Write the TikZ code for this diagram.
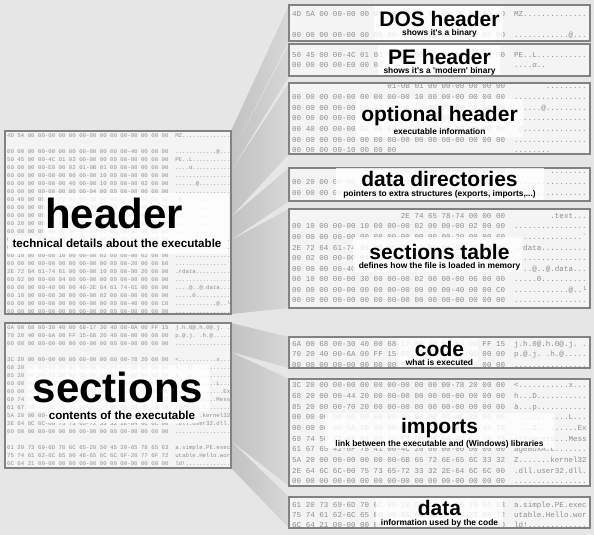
\documentclass[tikz,border=0pt]{standalone}
\usepackage{fontspec}
\setmainfont{Liberation Sans}
\setmonofont{Liberation Mono}
\definecolor{bg}{HTML}{E6E6E6}
\definecolor{fanL}{HTML}{C2C2C2}
\definecolor{fanR}{HTML}{D7D7D7}
\definecolor{panelfill}{HTML}{F4F4F4}
\definecolor{panelline}{HTML}{828282}
\definecolor{hexcol}{HTML}{8E8E8E}
\tikzset{
  panel/.style={draw=panelline, line width=1.3pt, fill=panelfill},
  hexR/.style={inner sep=0pt, anchor=base west, text=hexcol, font=\fontsize{7.55}{8}\selectfont\ttfamily},
  hexL/.style={inner sep=0pt, anchor=base west, text=hexcol, font=\fontsize{5.72}{6}\selectfont\ttfamily},
  hexcur/.style={hexR},
  wbox/.style={fill=white, fill opacity=0.8, draw=none},
  ttl/.style={inner sep=0pt, anchor=base, font=\fontsize{21}{21}\selectfont\bfseries},
  stl/.style={inner sep=0pt, anchor=base, font=\fontsize{8.4}{9}\selectfont\bfseries},
  bigttl/.style={inner sep=0pt, anchor=base, font=\fontsize{42}{42}\selectfont\bfseries},
  bigstl/.style={inner sep=0pt, anchor=base, font=\fontsize{11.6}{12}\selectfont\bfseries},
  fan/.style={left color=fanL, right color=fanR, draw=none}
}
% block settings: \blk{style}{x0}{baseline y0}{char width}{row step}
\newcommand\blk[5]{\tikzset{hexcur/.style={#1}}\def\HX{#2}\def\HY{#3}\def\CW{#4}\def\DY{#5}}
% row: \hr{name}{row}{col}{hex}{ascii col}{ascii}
\newcommand\hr[6]{%
  \node[hexcur] (#1h) at ({\HX+3*#3*\CW},{\HY+#2*\DY}) {#4};%
  \node[hexcur] (#1a) at ({\HX+(49+#5)*\CW},{\HY+#2*\DY}) {#6};}
\begin{document}
\begin{tikzpicture}[x=1pt,y=-1pt]
\useasboundingbox (0,0) rectangle (594,535);
\fill[bg] (0,0) rectangle (594,535);

% fans (header)
\shade[fan] (231,131) -- (289,5) -- (289,41) -- (231,155) -- cycle;
\shade[fan] (231,155) -- (289,44) -- (289,76) -- (231,171) -- cycle;
\shade[fan] (231,171) -- (289,83) -- (289,154) -- (231,217) -- cycle;
\shade[fan] (231,217) -- (289,168) -- (289,201) -- (231,240) -- cycle;
\shade[fan] (231,240) -- (289,209) -- (289,308) -- (231,314) -- cycle;
% fans (sections)
\shade[fan] (231,323) -- (289,337) -- (289,368) -- (231,352) -- cycle;
\shade[fan] (231,352) -- (289,379) -- (289,486) -- (231,441) -- cycle;
\shade[fan] (231,441) -- (289,497) -- (289,528) -- (231,468) -- cycle;

% panels
\draw[panel] (5,131) rectangle (231,314);
\draw[panel] (5,323) rectangle (231,468);
\draw[panel] (289,5) rectangle (590,41);
\draw[panel] (289,44) rectangle (590,76);
\draw[panel] (289,83) rectangle (590,154);
\draw[panel] (289,168) rectangle (590,201);
\draw[panel] (289,209) rectangle (590,308);
\draw[panel] (289,337) rectangle (590,368);
\draw[panel] (289,379) rectangle (590,486);
\draw[panel] (289,497) rectangle (590,528);

% left header dump
\begin{scope}
\clip (5.7,131.7) rectangle (230.3,313.3);
\blk{hexL}{7}{137}{3.43}{8.03}
\hr{lh0}{0}{0}{4D 5A 00 00-00 00 00 00-00 00 00 00-00 00 00 00}{0}{MZ..............}
\hr{lh2}{2}{0}{00 00 00 00-00 00 00 00-00 00 00 00-40 00 00 00}{0}{............@...}
\hr{lh3}{3}{0}{50 45 00 00-4C 01 03 00-00 00 00 00-00 00 00 00}{0}{PE..L...........}
\hr{lh4}{4}{0}{00 00 00 00-E0 00 02 01-0B 01 00 00-00 00 00 00}{0}{....α...........}
\hr{lh5}{5}{0}{00 00 00 00-00 00 00 00-00 10 00 00-00 00 00 00}{0}{................}
\hr{lh6}{6}{0}{00 00 00 00-00 00 40 00-00 10 00 00-00 02 00 00}{0}{......@.........}
\hr{lh7}{7}{0}{00 00 00 00-00 00 00 00-04 00 00 00-00 00 00 00}{0}{................}
\hr{lh8}{8}{0}{00 40 00 00-00 02 00 00-00 00 00 00-02 00 00 00}{0}{.@..............}
\hr{lh9}{9}{0}{00 00 00 00-00 00 00 00-00 00 00 00-00 00 00 00}{0}{................}
\hr{lh10}{10}{0}{00 00 00 00-10 00 00 00-00 00 00 00-00 00 00 00}{0}{................}
\hr{lh11}{11}{0}{00 20 00 00-00 00 00 00-00 00 00 00-00 00 00 00}{0}{................}
\hr{lh12}{12}{0}{00 00 00 00-00 00 00 00-00 00 00 00-00 00 00 00}{0}{................}
\hr{lh13}{13}{0}{00 00 00 00-00 00 00 00-00 00 00 00-00 00 00 00}{0}{................}
\hr{lh14}{14}{0}{00 00 00 00-00 00 00 00-2E 74 65 78-74 00 00 00}{0}{.........text...}
\hr{lh15}{15}{0}{00 10 00 00-00 10 00 00-00 02 00 00-00 02 00 00}{0}{................}
\hr{lh16}{16}{0}{00 00 00 00-00 00 00 00-00 00 00 00-20 00 00 60}{0}{...............`}
\hr{lh17}{17}{0}{2E 72 64 61-74 61 00 00-00 10 00 00-00 20 00 00}{0}{.rdata..........}
\hr{lh18}{18}{0}{00 02 00 00-00 04 00 00-00 00 00 00-00 00 00 00}{0}{................}
\hr{lh19}{19}{0}{00 00 00 00-40 00 00 40-2E 64 61 74-61 00 00 00}{0}{....@..@.data...}
\hr{lh20}{20}{0}{00 10 00 00-00 30 00 00-00 02 00 00-00 06 00 00}{0}{.....0..........}
\hr{lh21}{21}{0}{00 00 00 00-00 00 00 00-00 00 00 00-40 00 00 C0}{0}{............@..└}
\hr{lh22}{22}{0}{00 00 00 00-00 00 00 00-00 00 00 00-00 00 00 00}{0}{................}
\end{scope}

% left sections dump
\begin{scope}
\clip (5.7,323.7) rectangle (230.3,467.3);
\blk{hexL}{7}{329.7}{3.43}{7.98}
\hr{ls0}{0}{0}{6A 00 68 00-30 40 00 68-17 30 40 00-6A 00 FF 15}{0}{j.h.0@.h.0@.j. .}
\hr{ls1}{1}{0}{70 20 40 00-6A 00 FF 15-68 20 40 00-00 00 00 00}{0}{p.@.j. .h.@.....}
\hr{ls2}{2}{0}{00 00 00 00-00 00 00 00-00 00 00 00-00 00 00 00}{0}{................}
\hr{ls4}{4}{0}{3C 20 00 00-00 00 00 00-00 00 00 00-78 20 00 00}{0}{<...........x...}
\hr{ls5}{5}{0}{68 20 00 00-44 20 00 00-00 00 00 00-00 00 00 00}{0}{h...D...........}
\hr{ls6}{6}{0}{85 20 00 00-70 20 00 00-00 00 00 00-00 00 00 00}{0}{à...p...........}
\hr{ls7}{7}{0}{00 00 00 00-00 00 00 00-00 00 00 00-4C 20 00 00}{0}{............L...}
\hr{ls8}{8}{0}{00 00 00 00-5A 20 00 00-00 00 00 00-00 00 45 78}{0}{....Z.........Ex}
\hr{ls9}{9}{0}{69 74 50 72-6F 63 65 73-73 00 00 00-4D 65 73 73}{0}{itProcess...Mess}
\hr{ls10}{10}{0}{61 67 65 42-6F 78 41 00-4C 20 00 00-00 00 00 00}{0}{ageBoxA.L.......}
\hr{ls11}{11}{0}{5A 20 00 00-00 00 00 00-6B 65 72 6E-65 6C 33 32}{0}{Z.......kernel32}
\hr{ls12}{12}{0}{2E 64 6C 6C-00 75 73 65-72 33 32 2E-64 6C 6C 00}{0}{.dll.user32.dll.}
\hr{ls13}{13}{0}{00 00 00 00-00 00 00 00-00 00 00 00-00 00 00 00}{0}{................}
\hr{ls15}{15}{0}{61 20 73 69-6D 70 6C 65-20 50 45 20-65 78 65 63}{0}{a.simple.PE.exec}
\hr{ls16}{16}{0}{75 74 61 62-6C 65 00 48-65 6C 6C 6F-20 77 6F 72}{0}{utable.Hello.wor}
\hr{ls17}{17}{0}{6C 64 21 00-00 00 00 00-00 00 00 00-00 00 00 00}{0}{ld!.............}
\end{scope}

% right dumps
\blk{hexR}{292}{16.2}{4.53}{10.5}
\hr{dos0}{0}{0}{4D 5A 00 00-00 00 00 00-00 00 00 00-00 00 00 00}{0}{MZ..............}
\hr{dos2}{2}{0}{00 00 00 00-00 00 00 00-00 00 00 00-40 00 00 00}{0}{............@...}
\blk{hexR}{292}{57.2}{4.53}{10.6}
\hr{pe0}{0}{0}{50 45 00 00-4C 01 03 00-00 00 00 00-00 00 00 00}{0}{PE..L...........}
\hr{pe1}{1}{0}{00 00 00 00-E0 00 02}{0}{....α..}
\blk{hexR}{292}{88.7}{4.53}{10.67}
\hr{op0}{0}{7}{01-0B 01 00 00-00 00 00 00}{7}{.........}
\hr{op1}{1}{0}{00 00 00 00-00 00 00 00-00 10 00 00-00 00 00 00}{0}{................}
\hr{op2}{2}{0}{00 00 00 00-00 00 40 00-00 10 00 00-00 02 00 00}{0}{......@.........}
\hr{op3}{3}{0}{00 00 00 00-00 00 00 00-04 00 00 00-00 00 00 00}{0}{................}
\hr{op4}{4}{0}{00 40 00 00-00 02 00 00-00 00 00 00-02 00 00 00}{0}{.@..............}
\hr{op5}{5}{0}{00 00 00 00-00 00 00 00-00 00 00 00-00 00 00 00}{0}{................}
\hr{op6}{6}{0}{00 00 00 00-10 00 00 00}{0}{........}
\blk{hexR}{292}{173.7}{4.53}{11.1}
\hr{dd0}{0}{8}{00 00 00 00-00 00 00 00}{8}{........}
\hr{dd1}{1}{0}{00 20 00 00-00 00 00 00-00 00 00 00-00 00 00 00}{0}{................}
\hr{dd2}{2}{0}{00 00 00 00-00 00 00 00-00 00 00 00-00 00 00 00}{0}{................}
\blk{hexR}{292}{218.4}{4.53}{10.55}
\hr{st0}{0}{8}{2E 74 65 78-74 00 00 00}{8}{.text...}
\hr{st1}{1}{0}{00 10 00 00-00 10 00 00-00 02 00 00-00 02 00 00}{0}{................}
\hr{st2}{2}{0}{00 00 00 00-00 00 00 00-00 00 00 00-20 00 00 60}{0}{...............`}
\hr{st3}{3}{0}{2E 72 64 61-74 61 00 00-00 10 00 00-00 20 00 00}{0}{.rdata..........}
\hr{st4}{4}{0}{00 02 00 00-00 04 00 00-00 00 00 00-00 00 00 00}{0}{................}
\hr{st5}{5}{0}{00 00 00 00-40 00 00 40-2E 64 61 74-61 00 00 00}{0}{....@..@.data...}
\hr{st6}{6}{0}{00 10 00 00-00 30 00 00-00 02 00 00-00 06 00 00}{0}{.....0..........}
\hr{st7}{7}{0}{00 00 00 00-00 00 00 00-00 00 00 00-40 00 00 C0}{0}{............@..└}
\hr{st8}{8}{0}{00 00 00 00-00 00 00 00-00 00 00 00-00 00 00 00}{0}{................}
\blk{hexR}{292}{346}{4.53}{10.7}
\hr{cd0}{0}{0}{6A 00 68 00-30 40 00 68-17 30 40 00-6A 00 FF 15}{0}{j.h.0@.h.0@.j. .}
\hr{cd1}{1}{0}{70 20 40 00-6A 00 FF 15-68 20 40 00-00 00 00 00}{0}{p.@.j. .h.@.....}
\hr{cd2}{2}{0}{00 00 00 00-00 00 00 00-00 00 00 00-00 00 00 00}{0}{................}
\blk{hexR}{292}{387.7}{4.53}{10.67}
\hr{im0}{0}{0}{3C 20 00 00-00 00 00 00-00 00 00 00-78 20 00 00}{0}{<...........x...}
\hr{im1}{1}{0}{68 20 00 00-44 20 00 00-00 00 00 00-00 00 00 00}{0}{h...D...........}
\hr{im2}{2}{0}{85 20 00 00-70 20 00 00-00 00 00 00-00 00 00 00}{0}{à...p...........}
\hr{im3}{3}{0}{00 00 00 00-00 00 00 00-00 00 00 00-4C 20 00 00}{0}{............L...}
\hr{im4}{4}{0}{00 00 00 00-5A 20 00 00-00 00 00 00-00 00 45 78}{0}{....Z.........Ex}
\hr{im5}{5}{0}{69 74 50 72-6F 63 65 73-73 00 00 00-4D 65 73 73}{0}{itProcess...Mess}
\hr{im6}{6}{0}{61 67 65 42-6F 78 41 00-4C 20 00 00-00 00 00 00}{0}{ageBoxA.L.......}
\hr{im7}{7}{0}{5A 20 00 00-00 00 00 00-6B 65 72 6E-65 6C 33 32}{0}{Z.......kernel32}
\hr{im8}{8}{0}{2E 64 6C 6C-00 75 73 65-72 33 32 2E-64 6C 6C 00}{0}{.dll.user32.dll.}
\hr{im9}{9}{0}{00 00 00 00-00 00 00 00-00 00 00 00-00 00 00 00}{0}{................}
\blk{hexR}{292}{507}{4.53}{10}
\hr{da0}{0}{0}{61 20 73 69-6D 70 6C 65-20 50 45 20-65 78 65 63}{0}{a.simple.PE.exec}
\hr{da1}{1}{0}{75 74 61 62-6C 65 00 48-65 6C 6C 6F-20 77 6F 72}{0}{utable.Hello.wor}
\hr{da2}{2}{0}{6C 64 21 00-00 00 00 00-00 00 00 00-00 00 00 00}{0}{ld!.............}

% label backgrounds
\fill[wbox] (43,193) rectangle (229,236);
\fill[wbox] (8,236) rectangle (228,254);
\fill[wbox] (27,365) rectangle (210,411);
\fill[wbox] (47,411) rectangle (198,423);
\fill[wbox] (374.3,5.7) rectangle (503.3,40.3);
\fill[wbox] (378.3,44.7) rectangle (500,75.3);
\fill[wbox] (355.7,99.3) rectangle (523.3,136.7);
\fill[wbox] (335.7,168) rectangle (544.3,200);
\fill[wbox] (353.3,236.7) rectangle (522.3,271.7);
\fill[wbox] (398.3,337.7) rectangle (478.3,367.3);
\fill[wbox] (325,413.3) rectangle (554.3,448.3);
\fill[wbox] (375.7,497.7) rectangle (503.3,527.3);

% labels
\node[bigttl] (lhdr) at (114,228.3) {header};
\node[bigstl] (lhdrs) at (117,247.7) {technical details about the executable};
\node[bigttl] (lsec) at (118,402.3) {sections};
\node[bigstl] (lsecs) at (122,419) {contents of the executable};

\node[ttl] (tdos) at (439.5,26.7) {DOS header};
\node[stl] (sdos) at (439.5,36) {shows it\textquotesingle s a binary};
\node[ttl] (tpe) at (439.5,65) {PE header};
\node[stl] (spe) at (439.5,73.5) {shows it\textquotesingle s a \textquotesingle modern\textquotesingle\ binary};
\node[ttl] (topt) at (439.5,121.7) {optional header};
\node[stl] (sopt) at (439.5,134) {executable information};
\node[ttl] (tdd) at (439.5,186.7) {data directories};
\node[stl] (sdd) at (439.5,196.7) {pointers to extra structures (exports, imports,...)};
\node[ttl] (tst) at (439.5,259.3) {sections table};
\node[stl] (sst) at (439.5,268.3) {defines how the file is loaded in memory};
\node[ttl] (tcd) at (439.5,356.7) {code};
\node[stl] (scd) at (439.5,365) {what is executed};
\node[ttl] (tim) at (439.5,433.3) {imports};
\node[stl] (sim) at (439.5,446.7) {link between the executable and (Windows) libraries};
\node[ttl] (tda) at (439.5,515.7) {data};
\node[stl] (sda) at (439.5,525) {information used by the code};
\end{tikzpicture}
\end{document}
